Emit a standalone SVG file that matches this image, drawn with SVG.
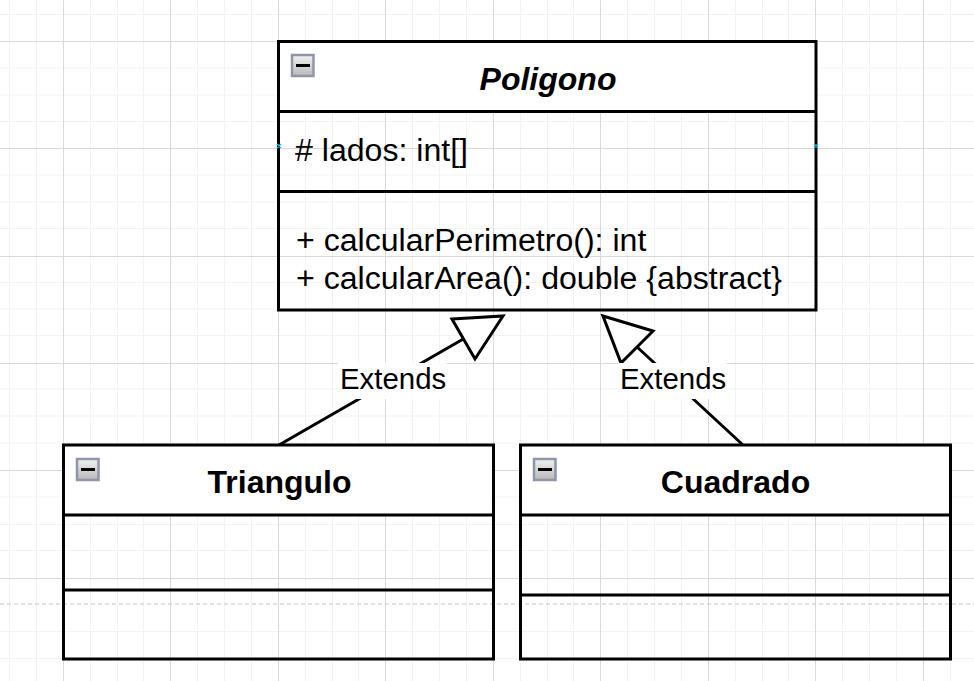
<svg xmlns="http://www.w3.org/2000/svg" width="974" height="681" viewBox="0 0 974 681">
<style>
.grid-major{stroke:#d9d9d9;stroke-width:1;fill:none}
.grid-minor{stroke:#f3f3f3;stroke-width:1;fill:none}
.page{stroke:#c4c4c4;stroke-width:1;stroke-dasharray:4 3;fill:none}
.box{fill:none;stroke:#000;stroke-width:3}
.hdr{fill:#fff;stroke:none}
.sep{stroke:#000;stroke-width:3;fill:none}
.conn{stroke:#000;stroke-width:3;fill:none}
.head{fill:#fff;stroke:#000;stroke-width:3;stroke-linejoin:miter}
.lbg{fill:#fff;stroke:none}
text{font-family:"Liberation Sans",Arial,sans-serif;fill:#000}
.lbl{font-size:29.4px}
.title{font-size:32px;font-weight:bold;text-anchor:middle}
.mem{font-size:32.1px}
.xm{stroke:#29b6f2;stroke-width:1.5;fill:none}
.ic{fill:url(#icg);stroke:#8f96aa;stroke-width:2.5}
.minus{fill:#000}
</style>
<defs>
<linearGradient id="icg" x1="0" y1="0" x2="0" y2="1"><stop offset="0" stop-color="#f2f2f2"/><stop offset="1" stop-color="#b8b8b8"/></linearGradient>
<g id="collapse"><rect class="ic" x="1" y="1" width="21.5" height="21"/><rect class="minus" x="5" y="10" width="14" height="3"/></g>
</defs>
<rect width="974" height="681" fill="#fff"/>
<g id="grid">
<path class="grid-minor" d="M9.5 0V681M36.5 0V681M90.5 0V681M117.5 0V681M143.5 0V681M197.5 0V681M224.5 0V681M251.5 0V681M305.5 0V681M332.5 0V681M358.5 0V681M412.5 0V681M439.5 0V681M466.5 0V681M520.5 0V681M547.5 0V681M573.5 0V681M627.5 0V681M654.5 0V681M681.5 0V681M735.5 0V681M762.5 0V681M788.5 0V681M842.5 0V681M869.5 0V681M896.5 0V681M950.5 0V681M0 14.5H974M0 68H974M0 95H974M0 121.5H974M0 175H974M0 202H974M0 228.5H974M0 282.5H974M0 309H974M0 335.5H974M0 389H974M0 416H974M0 443H974M0 497H974M0 524.5H974M0 550.5H974M0 631.5H974M0 658.5H974"/>
<path class="grid-major" d="M63.5 0V681M170.5 0V681M278.5 0V681M385.5 0V681M493.5 0V681M600.5 0V681M708.5 0V681M815.5 0V681M923.5 0V681M0 41.5H974M0 148.5H974M0 256.5H974M0 363.5H974M0 470.5H974M0 578.5H974"/>
<path class="page" d="M0 604H974"/>
</g>
<g id="connectors">
<path class="conn" d="M279 445L465 338"/>
<path class="head" d="M452 319L503 316L475 359Z"/>
<path class="conn" d="M743 445L636 346"/>
<path class="head" d="M603 316L653 331L621 363Z"/>
<rect class="lbg" x="338" y="363" width="109" height="36"/>
<rect class="lbg" x="618" y="363" width="109" height="36"/>
<text class="lbl" x="340" y="389">Extends</text>
<text class="lbl" x="620" y="389">Extends</text>
</g>
<g id="poligono">
<rect class="hdr" x="278.5" y="41.5" width="537.5" height="70"/>
<rect class="box" x="278.5" y="41.5" width="537.5" height="268.5"/>
<path class="sep" d="M278.5 111.5H816M278.5 191.5H816"/>
<use href="#collapse" x="291" y="54"/>
<text x="548" y="90" font-size="32" font-weight="bold" font-style="italic" text-anchor="middle">Poligono</text>
<text class="mem" x="295" y="161"># lados: int[]</text>
<text class="mem" x="296" y="251">+ calcularPerimetro(): int</text>
<text class="mem" x="296" y="289">+ calcularArea(): double {abstract}</text>
<path class="xm" d="M277 144L281 148M281 144L277 148M814 144L818 148M818 144L814 148"/>
</g>
<g id="triangulo">
<rect class="hdr" x="63.5" y="445" width="430" height="70"/>
<rect class="box" x="63.5" y="445" width="430" height="214"/>
<path class="sep" d="M63.5 515H493.5M63.5 590H493.5"/>
<use href="#collapse" x="76" y="458"/>
<text class="title" x="279.5" y="493">Triangulo</text>
</g>
<g id="cuadrado">
<rect class="hdr" x="520.5" y="445" width="430" height="70"/>
<rect class="box" x="520.5" y="445" width="430" height="214"/>
<path class="sep" d="M520.5 515H950.5M520.5 595H950.5"/>
<use href="#collapse" x="533" y="458"/>
<text class="title" x="735.5" y="493">Cuadrado</text>
</g>
</svg>
